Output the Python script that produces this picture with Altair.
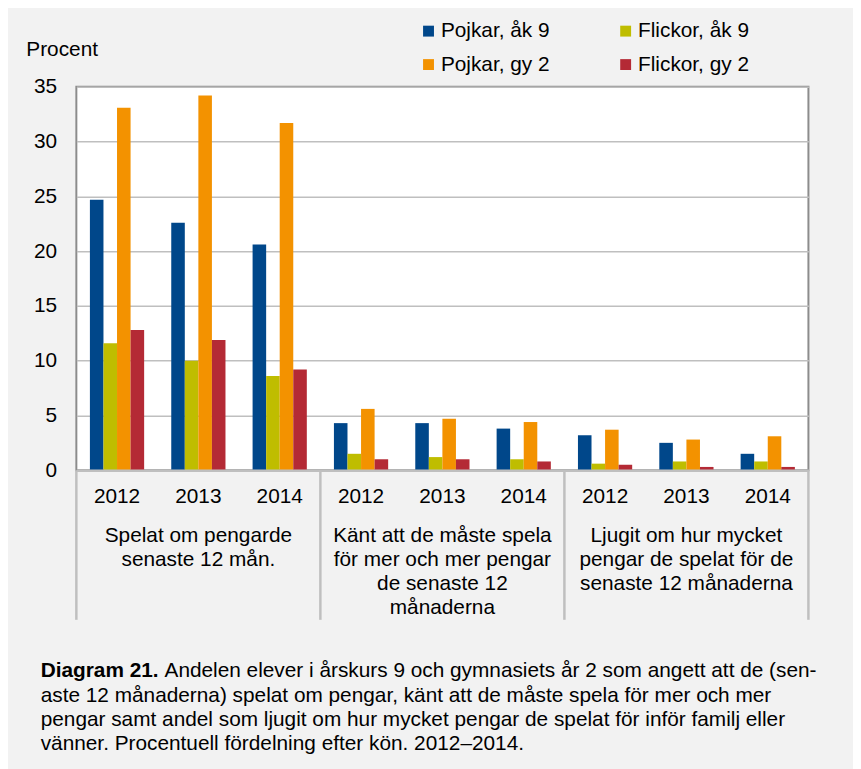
import altair as alt
import pandas as pd

categories = ["A", "B", "C"]
category_labels = [
    "Spelat om pengarde\nsenaste 12 mån.",
    "Känt att de måste spela\nför mer och mer pengar\nde senaste 12\nmånaderna",
    "Ljugit om hur mycket\npengar de spelat för de\nsenaste 12 månaderna",
]
years = ["2012", "2013", "2014"]
series = ["Pojkar, åk 9", "Flickor, åk 9", "Pojkar, gy 2", "Flickor, gy 2"]
colors = ["#00478a", "#bfbd00", "#f39200", "#b42a35"]

pojkar_ak9 = [24.7, 22.6, 20.6, 4.3, 4.3, 3.8, 3.2, 2.5, 1.5]
flickor_ak9 = [11.6, 10.0, 8.6, 1.5, 1.2, 1.0, 0.6, 0.8, 0.8]
pojkar_gy2 = [33.1, 34.2, 31.7, 5.6, 4.7, 4.4, 3.7, 2.8, 3.1]
flickor_gy2 = [12.8, 11.9, 9.2, 1.0, 1.0, 0.8, 0.5, 0.3, 0.3]

caption_bold = "Diagram 21."
caption_first = "Andelen elever i årskurs 9 och gymnasiets år 2 som angett att de (sen-"
caption_rest = (
    "aste 12 månaderna) spelat om pengar, känt att de måste spela för mer och mer\n"
    "pengar samt andel som ljugit om hur mycket pengar de spelat för inför familj eller\n"
    "vänner. Procentuell fördelning efter kön. 2012–2014."
)

groups = [f"{c}|{y}" for c in categories for y in years]
values = [pojkar_ak9, flickor_ak9, pojkar_gy2, flickor_gy2]
rows = []
for s, vals in zip(series, values):
    for g, v in zip(groups, vals):
        rows.append({"grp": g, "serie": s, "value": v})
df = pd.DataFrame(rows)

FONT = "Liberation Sans"
FS = 21
W, H = 739, 387

xscale = alt.Scale(domain=groups, paddingInner=0, paddingOuter=0)

def xenc(**kw):
    return alt.X("grp:N", scale=xscale, sort=groups, **kw)

bars = alt.Chart(df).mark_bar(stroke=None).encode(
    x=xenc(axis=alt.Axis(title=None, labelExpr="split(datum.label, '|')[1]",
                         labelAngle=0, labelPadding=16, labelFontSize=FS,
                         ticks=False, domainColor="#bfbfbf", domainWidth=2.5,
                         labelColor="black", labelFont=FONT, zindex=1)),
    xOffset=alt.XOffset("serie:N", sort=series,
                        scale=alt.Scale(paddingOuter=1, paddingInner=0)),
    y=alt.Y("value:Q", scale=alt.Scale(domain=[0, 35], nice=False),
            axis=alt.Axis(values=[0, 5, 10, 15, 20, 25, 30, 35], title="Procent",
                          titleAngle=0, titleX=-51, titleY=-32, titleAlign="left",
                          titleBaseline="alphabetic", titleFontSize=FS,
                          titleFontWeight="normal", titleFont=FONT, titleColor="black",
                          labelFontSize=FS, labelFont=FONT, labelColor="black",
                          labelPadding=20, ticks=False, domain=False,
                          gridColor="#bfbfbf", gridWidth=1.5)),
    color=alt.Color("serie:N", sort=series,
                    scale=alt.Scale(domain=series, range=colors),
                    legend=alt.Legend(title=None, orient="none", legendX=345,
                                      legendY=-67, columns=2, columnPadding=66,
                                      direction="horizontal",
                                      rowPadding=12, symbolType="square",
                                      symbolSize=121, symbolStrokeWidth=0,
                                      labelFontSize=FS, labelFont=FONT,
                                      labelColor="black", labelOffset=2,
                                      padding=0)),
)

cat_df = pd.DataFrame({"grp": [f"{c}|2013" for c in categories], "label": category_labels})
cat_text = alt.Chart(cat_df).mark_text(
    lineBreak="\n", fontSize=FS, font=FONT, color="black", align="center",
    baseline="alphabetic", lineHeight=24.5,
).encode(x=xenc(), y=alt.value(H + 72), text="label:N")

sep_df = pd.DataFrame({"grp": [f"{c}|2012" for c in categories]})
sep_left = alt.Chart(sep_df).mark_rule(color="#bfbfbf", strokeWidth=2.5).encode(
    x=xenc(bandPosition=0), y=alt.value(H), y2=alt.value(H + 151))
end_df = pd.DataFrame({"grp": [groups[-1]]})
sep_right = alt.Chart(end_df).mark_rule(color="#bfbfbf", strokeWidth=2.5).encode(
    x=xenc(bandPosition=1), y=alt.value(H), y2=alt.value(H + 151))

cap1 = alt.Chart(pd.DataFrame({"t": [caption_bold]})).mark_text(
    fontSize=FS, font=FONT, fontWeight="bold", color="black", align="left",
    baseline="alphabetic").encode(x=alt.value(-36), y=alt.value(596), text="t:N")
cap2 = alt.Chart(pd.DataFrame({"t": [caption_first]})).mark_text(
    fontSize=FS, font=FONT, color="black", align="left",
    baseline="alphabetic").encode(x=alt.value(89), y=alt.value(596), text="t:N")
cap3 = alt.Chart(pd.DataFrame({"t": [caption_rest]})).mark_text(
    fontSize=FS, font=FONT, color="black", align="left", lineBreak="\n",
    lineHeight=24.6, baseline="alphabetic").encode(x=alt.value(-36), y=alt.value(620.6), text="t:N")

chart = alt.layer(bars, cat_text, sep_left, sep_right, cap1, cap2, cap3).properties(
    width=W, height=H,
    autosize=alt.AutoSizeParams(type="none"),
    padding={"left": 69, "top": 76, "right": 45, "bottom": 298},
    background="#f2f2f2",
).configure_view(
    stroke="#8c8c8c", strokeWidth=2, fill="white"
).configure_axis(
    labelFont=FONT, titleFont=FONT
)

chart.save("out.html", embed_options={"renderer": "svg", "actions": False})
